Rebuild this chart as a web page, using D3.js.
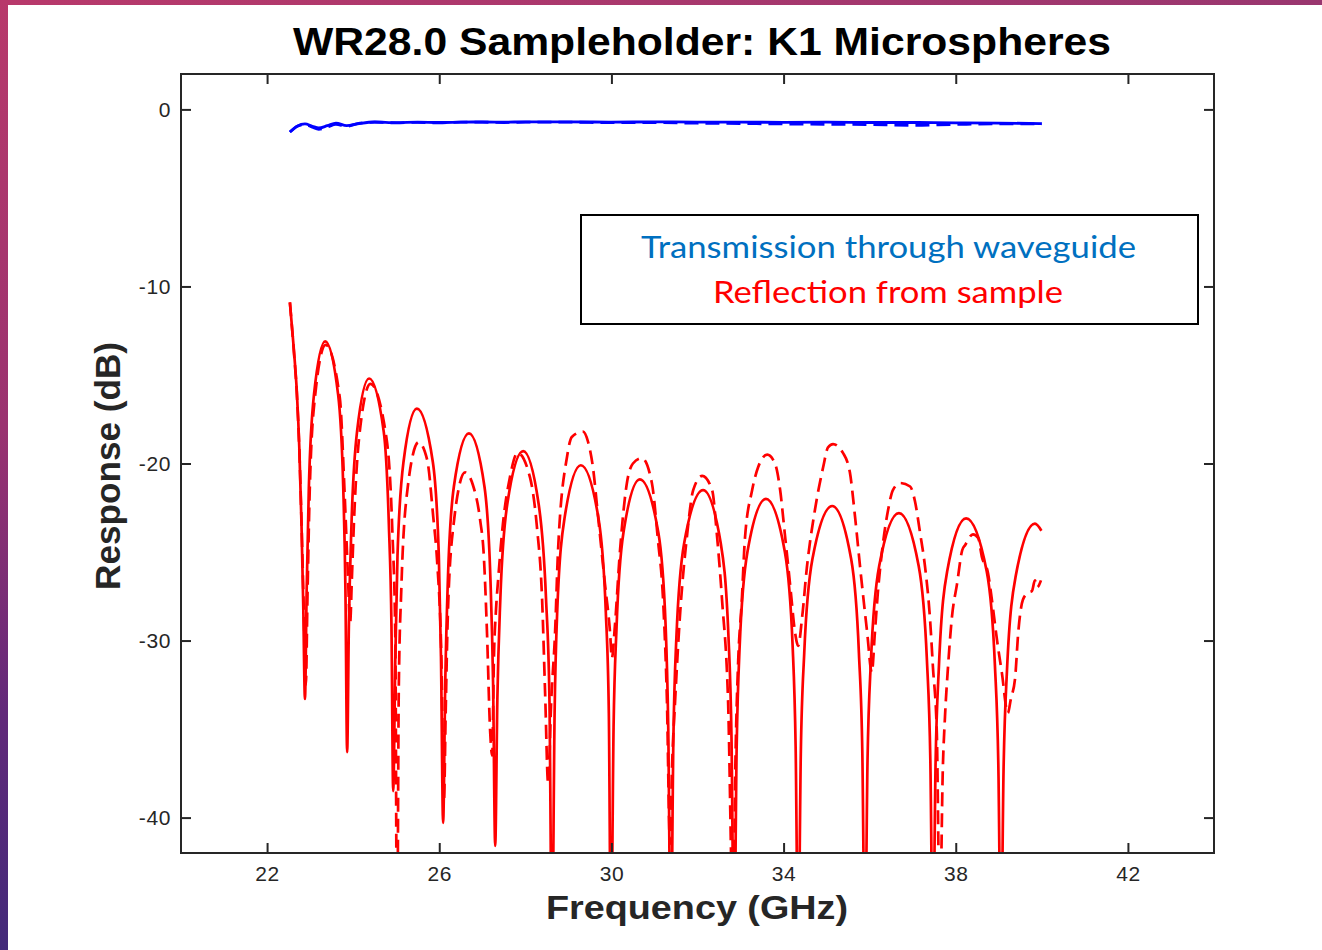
<!DOCTYPE html>
<html><head><meta charset="utf-8">
<script src="https://cdn.jsdelivr.net/npm/d3@7"></script>
<style>html,body{margin:0;padding:0;background:#fff;overflow:hidden} svg{display:block}</style>
</head><body>
<svg id="chart" width="1322" height="950"></svg>
<script>
// ---------- data ----------
const xTicks = [22, 26, 30, 34, 38, 42];
const yTicks = [0, -10, -20, -30, -40];
const xDomain = [20, 44];
const yDomain = [-42, 2];

const titleText = "WR28.0 Sampleholder: K1 Microspheres";
const xLabelText = "Frequency (GHz)";
const yLabelText = "Response (dB)";
const legendLabels = ["Transmission through waveguide", "Reflection from sample"];

// Transmission (blue)
const transF = [22.53, 22.7, 22.88, 23.05, 23.2, 23.4, 23.6, 23.85, 24.1, 24.5, 25, 25.5, 26, 26.5, 27, 27.5, 28, 29, 30, 31, 32, 33, 34, 35, 36, 37, 38, 39, 40];
const transSolidDB = [-1.28, -0.95, -0.82, -0.95, -1.05, -0.92, -0.77, -0.92, -0.82, -0.71, -0.75, -0.72, -0.74, -0.72, -0.71, -0.72, -0.70, -0.70, -0.72, -0.70, -0.72, -0.72, -0.73, -0.72, -0.74, -0.74, -0.76, -0.77, -0.80];
const transDashedDB = [-1.28, -0.95, -0.85, -1.0, -1.12, -1.0, -0.85, -0.95, -0.80, -0.72, -0.76, -0.73, -0.76, -0.72, -0.72, -0.74, -0.72, -0.72, -0.75, -0.74, -0.78, -0.80, -0.82, -0.84, -0.86, -0.90, -0.85, -0.82, -0.82];

// Reflection (red), solid
const reflSolidF = [
  22.53, 22.62, 22.69, 22.75, 22.80, 22.84, 22.88,
  22.92, 22.97, 23.09, 23.35, 23.65, 23.77, 23.82, 23.86,
  23.90, 23.96, 24.09, 24.37, 24.71, 24.83, 24.89, 24.93,
  24.98, 25.03, 25.17, 25.48, 25.85, 25.99, 26.04, 26.09,
  26.14, 26.20, 26.34, 26.69, 27.05, 27.19, 27.25, 27.30,
  27.35, 27.42, 27.58, 27.95, 28.31, 28.48, 28.56, 28.62,
  28.68, 28.74, 28.91, 29.29, 29.70, 29.87, 29.94, 29.99,
  30.05, 30.12, 30.28, 30.66, 31.09, 31.26, 31.32, 31.38,
  31.44, 31.51, 31.69, 32.13, 32.54, 32.72, 32.79, 32.85,
  32.91, 32.98, 33.16, 33.59, 34.03, 34.21, 34.28, 34.34,
  34.40, 34.48, 34.67, 35.13, 35.57, 35.75, 35.83, 35.89,
  35.95, 36.03, 36.22, 36.68, 37.14, 37.33, 37.41, 37.47,
  37.53, 37.61, 37.80, 38.24, 38.72, 38.91, 38.99, 39.05,
  39.11, 39.19, 39.39, 39.84, 39.99];
const reflSolidDB = [
  -10.9, -13.5, -15.9, -19.2, -23.5, -28.0, -33.3,
  -27.1, -21.4, -16.1, -13.1, -16.1, -21.4, -27.1, -36.3,
  -29.2, -23.5, -18.2, -15.2, -18.2, -23.5, -29.2, -38.5,
  -30.9, -25.2, -19.9, -16.9, -19.9, -25.2, -30.9, -40.3,
  -32.3, -26.6, -21.3, -18.3, -21.3, -26.6, -32.3, -41.6,
  -33.3, -27.6, -22.3, -19.3, -22.3, -27.6, -33.3, -48,
  -34.1, -28.4, -23.1, -20.1, -23.1, -28.4, -34.1, -48,
  -34.9, -29.2, -23.9, -20.9, -23.9, -29.2, -34.9, -48,
  -35.5, -29.8, -24.5, -21.5, -24.5, -29.8, -35.5, -48,
  -36.0, -30.3, -25.0, -22.0, -25.0, -30.3, -36.0, -48,
  -36.4, -30.7, -25.4, -22.4, -25.4, -30.7, -36.4, -48,
  -36.8, -31.1, -25.8, -22.8, -25.8, -31.1, -36.8, -48,
  -37.1, -31.4, -26.1, -23.1, -26.1, -31.4, -37.1, -48,
  -37.4, -31.7, -26.4, -23.4, -23.8];

// Reflection (red), dashed
const reflDashedF = [
  22.53, 22.62, 22.69, 22.75, 22.80, 22.85, 22.90,
  22.94, 22.99, 23.11, 23.36, 23.69, 23.80, 23.87, 23.93,
  23.97, 24.02, 24.14, 24.40, 24.77, 24.91, 24.98, 25.02,
  25.06, 25.12, 25.25, 25.52, 25.72, 25.86, 25.95, 26.05, 26.11,
  26.15, 26.20, 26.33, 26.60, 26.78, 26.95, 27.03, 27.11, 27.18, 27.23,
  27.27, 27.32, 27.37, 27.48, 27.64, 27.82, 28.11, 28.27, 28.39, 28.46, 28.53,
  28.60, 28.69, 28.76, 28.97, 29.08, 29.34, 29.46, 29.57, 29.69, 29.85, 29.97, 30.01,
  30.08, 30.20, 30.36, 30.50, 30.71, 30.94, 31.08, 31.20, 31.29, 31.36,
  31.41, 31.48, 31.59, 31.76, 31.90, 32.11, 32.34, 32.45, 32.57, 32.71, 32.83,
  32.88, 32.94, 33.03, 33.10, 33.27, 33.41, 33.62, 33.80, 33.92, 34.03, 34.15, 34.27, 34.34,
  34.43, 34.54, 34.73, 34.92, 35.03, 35.15, 35.38, 35.54, 35.66, 35.78, 35.94, 36.05,
  36.12, 36.19, 36.29, 36.43, 36.54, 36.71, 36.94, 37.05, 37.17, 37.29, 37.40, 37.47, 37.56, 37.63,
  37.70, 37.75, 37.82, 37.91, 38.03, 38.15, 38.22, 38.40, 38.52, 38.61, 38.75, 38.84, 38.96, 39.07, 39.21,
  39.28, 39.38, 39.45, 39.56, 39.68, 39.77, 39.84, 39.89, 39.98];
const reflDashedDB = [
  -10.9, -13.6, -16.0, -19.3, -23.3, -28.0, -32.5,
  -27.3, -21.6, -16.3, -13.3, -16.3, -21.6, -25.8, -29.0,
  -26.5, -23.2, -18.5, -15.5, -18.5, -23.8, -30.0, -48,
  -32.7, -27.0, -21.7, -18.8, -19.8, -23.0, -25.5, -31.0, -39.0,
  -34.0, -28.5, -23.5, -20.5, -21.2, -23.2, -25.0, -29.6, -35.0, -36.5,
  -31.0, -28.2, -26.5, -23.4, -20.8, -19.4, -20.8, -23.6, -27.7, -33.0, -38.1,
  -33.5, -29.6, -24.9, -19.6, -18.5, -18.2, -18.8, -20.2, -23.0, -26.8, -29.6, -31.0,
  -29.2, -24.9, -21.1, -20.0, -19.7, -21.1, -24.3, -27.7, -33.4, -41.5,
  -37.0, -33.4, -28.7, -24.0, -21.5, -20.7, -21.5, -24.0, -27.7, -33.4, -46,
  -37.0, -31.5, -27.7, -24.3, -21.5, -20.2, -19.5, -20.0, -21.5, -24.0, -26.8, -29.6, -30.3,
  -28.7, -25.9, -22.6, -20.2, -19.1, -18.9, -19.4, -20.5, -23.0, -25.9, -29.5, -31.8,
  -29.6, -27.3, -24.9, -22.6, -21.5, -21.1, -21.3, -22.1, -23.9, -25.9, -28.7, -31.5, -35.2, -46,
  -37.2, -34.3, -31.5, -28.7, -26.8, -24.9, -24.6, -24.0, -24.2, -25.3, -26.2, -27.7, -30.0, -31.8, -34.1,
  -33.3, -32.1, -29.6, -27.7, -27.3, -27.2, -26.6, -27.0, -26.6];

// ---------- layout ----------
const W = 1322, H = 950;
const plot = {left: 181, right: 1214, top: 74, bottom: 853};
const axisColor = "#262626";
const blue = "#0000ff", red = "#ff0000";

const svg = d3.select("#chart");
const defs = svg.append("defs");

// slide background strips
const gl = defs.append("linearGradient").attr("id", "gLeft").attr("x1", 0).attr("y1", 0).attr("x2", 0).attr("y2", 1);
gl.append("stop").attr("offset", "0%").attr("stop-color", "#b8396b");
gl.append("stop").attr("offset", "45%").attr("stop-color", "#9a3270");
gl.append("stop").attr("offset", "75%").attr("stop-color", "#62297a");
gl.append("stop").attr("offset", "100%").attr("stop-color", "#432a7a");
const gt = defs.append("linearGradient").attr("id", "gTop").attr("x1", 0).attr("y1", 0).attr("x2", 1).attr("y2", 0);
gt.append("stop").attr("offset", "0%").attr("stop-color", "#b8396b");
gt.append("stop").attr("offset", "100%").attr("stop-color", "#99366f");
svg.append("rect").attr("x", 0).attr("y", 0).attr("width", W).attr("height", 5).attr("fill", "url(#gTop)");
svg.append("rect").attr("x", 0).attr("y", 0).attr("width", 8).attr("height", H).attr("fill", "url(#gLeft)");

defs.append("clipPath").attr("id", "plotClip").append("rect")
  .attr("x", plot.left).attr("y", plot.top)
  .attr("width", plot.right - plot.left).attr("height", plot.bottom - plot.top);

const x = d3.scaleLinear().domain(xDomain).range([plot.left, plot.right]);
const y = d3.scaleLinear().domain(yDomain).range([plot.bottom, plot.top]);

// ---------- curves ----------
const line = d3.line().x(d => x(d[0])).y(d => y(d[1])).curve(d3.curveMonotoneX);
const lines = svg.append("g").attr("clip-path", "url(#plotClip)");

const series = [
  {f: transF, v: transDashedDB, color: blue, dash: "14,7", w: 2.8},
  {f: transF, v: transSolidDB, color: blue, dash: null, w: 2.8},
  {f: reflDashedF, v: reflDashedDB, color: red, dash: "14,7", w: 2.7},
  {f: reflSolidF, v: reflSolidDB, color: red, dash: null, w: 2.7}
];
series.forEach(s => {
  lines.append("path")
    .datum(s.f.map((f, i) => [f, s.v[i]]))
    .attr("d", line)
    .attr("fill", "none")
    .attr("stroke", s.color)
    .attr("stroke-width", s.w)
    .attr("stroke-linejoin", "round")
    .attr("stroke-dasharray", s.dash);
});

// ---------- axes ----------
function styleAxis(g) {
  g.select(".domain").remove();
  g.selectAll(".tick line").attr("stroke", axisColor).attr("stroke-width", 2);
  g.selectAll(".tick text").attr("fill", axisColor)
    .attr("font-family", "'Liberation Sans', Arial, Helvetica, sans-serif")
    .attr("font-size", 21).attr("letter-spacing", 0.6);
}
const fmt = d => String(d);
svg.append("g").attr("transform", `translate(0,${plot.bottom})`)
  .call(d3.axisBottom(x).tickValues(xTicks).tickFormat(fmt).tickSizeInner(-10).tickSizeOuter(0).tickPadding(13))
  .call(styleAxis);
svg.append("g").attr("transform", `translate(0,${plot.top})`)
  .call(d3.axisTop(x).tickValues(xTicks).tickFormat("").tickSizeInner(-10).tickSizeOuter(0))
  .call(styleAxis);
svg.append("g").attr("transform", `translate(${plot.left},0)`)
  .call(d3.axisLeft(y).tickValues(yTicks).tickFormat(fmt).tickSizeInner(-10).tickSizeOuter(0).tickPadding(10))
  .call(styleAxis);
svg.append("g").attr("transform", `translate(${plot.right},0)`)
  .call(d3.axisRight(y).tickValues(yTicks).tickFormat("").tickSizeInner(-10).tickSizeOuter(0))
  .call(styleAxis);

svg.append("rect")
  .attr("x", plot.left).attr("y", plot.top)
  .attr("width", plot.right - plot.left).attr("height", plot.bottom - plot.top)
  .attr("fill", "none").attr("stroke", axisColor).attr("stroke-width", 2);

// ---------- labels ----------
const sans = "'Liberation Sans', Arial, Helvetica, sans-serif";
svg.append("text").text(titleText)
  .attr("x", 702).attr("y", 55).attr("text-anchor", "middle")
  .attr("font-family", sans).attr("font-weight", "bold").attr("font-size", 39)
  .attr("textLength", 818).attr("lengthAdjust", "spacingAndGlyphs").attr("fill", "#000");

svg.append("text").text(xLabelText)
  .attr("x", 697).attr("y", 919).attr("text-anchor", "middle")
  .attr("font-family", sans).attr("font-weight", "bold").attr("font-size", 34)
  .attr("textLength", 302).attr("lengthAdjust", "spacingAndGlyphs").attr("fill", "#262626");

svg.append("text").text(yLabelText)
  .attr("transform", "translate(120,466) rotate(-90)").attr("text-anchor", "middle")
  .attr("font-family", sans).attr("font-weight", "bold").attr("font-size", 35)
  .attr("textLength", 248).attr("lengthAdjust", "spacingAndGlyphs").attr("fill", "#262626");

// ---------- legend ----------
const lg = svg.append("g");
lg.append("rect").attr("x", 581).attr("y", 215).attr("width", 617).attr("height", 109)
  .attr("fill", "#fff").attr("stroke", "#000").attr("stroke-width", 2);
const legFont = "Lato, 'Open Sans', 'Noto Sans', sans-serif";
lg.append("text").text(legendLabels[0])
  .attr("x", 888.5).attr("y", 258).attr("text-anchor", "middle")
  .attr("font-family", legFont).attr("font-size", 31).attr("fill", "#0070c0")
  .attr("textLength", 495).attr("lengthAdjust", "spacingAndGlyphs");
lg.append("text").text(legendLabels[1])
  .attr("x", 888).attr("y", 303).attr("text-anchor", "middle")
  .attr("font-family", legFont).attr("font-size", 31).attr("fill", "#ff0000")
  .attr("textLength", 350).attr("lengthAdjust", "spacingAndGlyphs");
</script>
</body></html>
